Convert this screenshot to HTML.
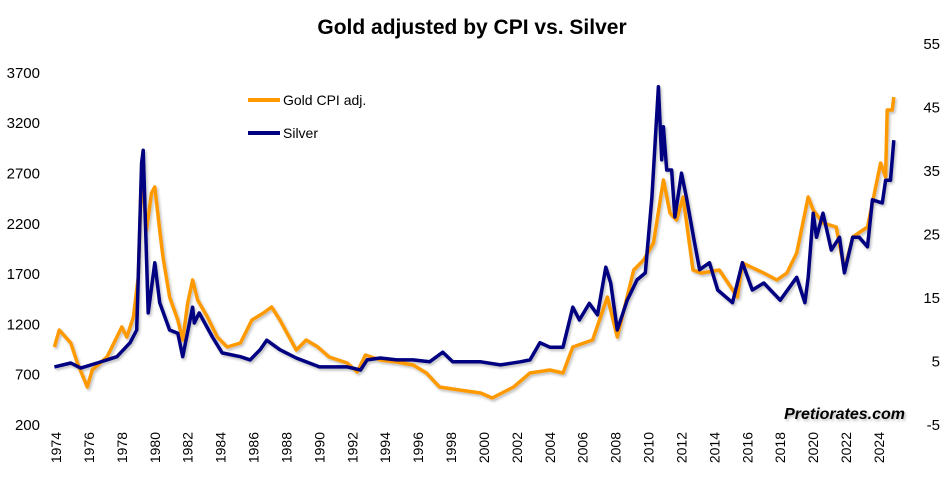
<!DOCTYPE html>
<html><head><meta charset="utf-8"><style>
body{margin:0;background:#fff;}
svg{display:block;font-family:"Liberation Sans",Arial,sans-serif;}
</style></head><body>
<svg id="chart" width="945" height="494">
<defs><filter id="sh" x="-5%" y="-5%" width="110%" height="110%"><feDropShadow dx="1.5" dy="2" stdDeviation="1.2" flood-color="#000" flood-opacity="0.25"/></filter></defs>
<text x="472" y="34" text-anchor="middle" font-size="21" font-weight="bold" fill="#000">Gold adjusted by CPI vs. Silver</text>
<g id="yl"></g>
<g id="yr"></g>
<g id="xa"></g>
<g id="lines" filter="url(#sh)"></g>
<g>
<line x1="248" y1="100" x2="280" y2="100" stroke="#FF9900" stroke-width="4"/>
<text x="283" y="105" font-size="14" fill="#000">Gold CPI adj.</text>
<line x1="248" y1="133" x2="280" y2="133" stroke="#000080" stroke-width="4"/>
<text x="283" y="138" font-size="14" fill="#000">Silver</text>
</g>
<text x="905" y="419" text-anchor="end" font-size="16" font-weight="bold" font-style="italic" fill="#000" filter="url(#sh)">Pretiorates.com</text>
</svg>
<script>
const goldYears=[1973.9,1974.2,1974.9,1975.3,1975.9,1976.2,1977.1,1978.0,1978.3,1978.7,1979.0,1979.2,1979.5,1979.8,1980.0,1980.3,1980.5,1980.9,1981.4,1981.7,1982.0,1982.3,1982.6,1983.2,1983.8,1984.4,1985.2,1985.9,1986.6,1987.1,1987.6,1988.6,1989.2,1989.9,1990.6,1991.7,1992.3,1992.8,1993.7,1994.7,1995.7,1996.5,1997.3,1998.5,1999.8,2000.5,2001.8,2002.8,2004.0,2004.8,2005.4,2006.6,2007.5,2008.1,2009.1,2009.7,2010.3,2010.9,2011.3,2011.7,2012.1,2012.7,2013.2,2014.3,2015.4,2015.7,2017.0,2017.8,2018.4,2019.0,2019.7,2020.0,2020.6,2021.4,2021.9,2022.4,2023.3,2023.6,2024.1,2024.4,2024.5,2024.8,2024.9];
const goldValues=[965,1134,1005,806,568,737,866,1164,1065,1264,1661,2725,2128,2496,2556,2128,1860,1462,1234,1035,1403,1631,1433,1264,1065,965,1005,1234,1303,1363,1234,936,1035,966,866,806,717,886,836,816,786,707,568,538,508,458,568,707,737,707,965,1035,1462,1065,1731,1830,2000,2625,2297,2228,2456,1731,1700,1731,1462,1800,1700,1631,1700,1900,2456,2327,2198,2158,1731,2059,2158,2397,2794,2655,3321,3321,3450];
const silverYears=[1973.9,1974.9,1975.5,1976.5,1977.7,1978.5,1978.9,1979.2,1979.3,1979.6,1980.0,1980.3,1980.9,1981.4,1981.7,1982.3,1982.4,1982.7,1983.5,1984.1,1985.2,1985.8,1986.4,1986.8,1987.6,1988.6,1990.0,1991.7,1992.5,1992.9,1993.7,1994.7,1995.7,1996.7,1997.5,1998.1,1999.8,2001.0,2002.2,2002.8,2003.4,2004.0,2004.8,2005.4,2005.8,2006.4,2006.9,2007.4,2007.7,2008.1,2008.7,2009.3,2009.8,2010.2,2010.6,2010.8,2010.9,2011.1,2011.4,2011.6,2012.0,2012.3,2012.8,2013.1,2013.7,2014.2,2015.1,2015.7,2016.3,2017.0,2018.0,2019.0,2019.5,2019.7,2020.0,2020.2,2020.6,2021.1,2021.6,2021.9,2022.4,2022.8,2023.3,2023.6,2024.2,2024.4,2024.7,2024.9];
const silverValues=[4,4.6,3.8,4.6,5.6,7.8,9.8,36.1,38.1,12.5,20.4,14.1,9.8,9.3,5.6,13.4,10.9,12.5,8.7,6.2,5.6,5.1,6.7,8.2,6.7,5.4,4.0,4.0,3.5,5.1,5.4,5.1,5.1,4.8,6.3,4.8,4.8,4.3,4.8,5.1,7.8,7.1,7.1,13.4,11.4,14.0,12.2,19.7,17.2,9.8,14.5,17.7,18.8,30.7,48.1,36.6,41.8,35,35,27.6,34.5,30.7,23.5,19.3,20.4,16.1,14.1,20.4,16.1,17.2,14.5,18.1,14.1,18.1,28.2,24.4,28.2,22.4,24.4,18.8,24.4,24.4,22.9,30.3,29.8,33.4,33.4,39.7];
const leftTicks=[200,700,1200,1700,2200,2700,3200,3700];
const rightTicks=[-5,5,15,25,35,45,55];
const xTicks=[1974,1976,1978,1980,1982,1984,1986,1988,1990,1992,1994,1996,1998,2000,2002,2004,2006,2008,2010,2012,2014,2016,2018,2020,2022,2024];
const NS="http://www.w3.org/2000/svg";
const xS=y=>56+(y-1974)*16.46;
const yL=v=>424-(v-200)*0.1006;
const yR=v=>424-(v+5)*6.35;
function mk(t,a,p){const e=document.createElementNS(NS,t);for(const k in a)e.setAttribute(k,a[k]);p.appendChild(e);return e;}
const yl=document.getElementById('yl'),yr=document.getElementById('yr'),xa=document.getElementById('xa'),lines=document.getElementById('lines');
leftTicks.forEach(v=>{const t=mk('text',{x:40,y:yL(v)+6,'text-anchor':'end','font-size':15,fill:'#000'},yl);t.textContent=v;

});
rightTicks.forEach(v=>{const t=mk('text',{x:940,y:yR(v)+6,'text-anchor':'end','font-size':15,fill:'#000'},yr);t.textContent=v;

});
xTicks.forEach(v=>{const x=xS(v);const t=mk('text',{x:0,y:0,'text-anchor':'end','font-size':14,fill:'#000',transform:`translate(${x+5},432) rotate(-90)`},xa);t.textContent=v;

});
const gp=goldYears.map((y,i)=>xS(y).toFixed(1)+','+yL(goldValues[i]).toFixed(1)).join(' ');
const g=mk('polyline',{points:gp,fill:'none',stroke:'#FF9900','stroke-width':3.5,'stroke-linejoin':'round'},lines);


const sp=silverYears.map((y,i)=>xS(y).toFixed(1)+','+yR(silverValues[i]).toFixed(1)).join(' ');
const s=mk('polyline',{points:sp,fill:'none',stroke:'#000080','stroke-width':3.5,'stroke-linejoin':'round'},lines);


</script>
</body></html>
